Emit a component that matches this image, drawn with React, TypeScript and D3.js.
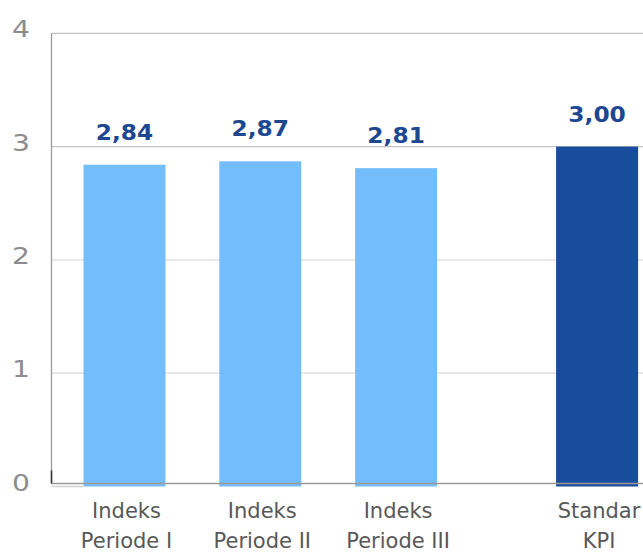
import React from "react";
import * as d3 from "d3";

const categories: string[][] = [
  ["Indeks", "Periode I"],
  ["Indeks", "Periode II"],
  ["Indeks", "Periode III"],
  ["Standar", "KPI"],
];
const slots = [0, 1, 2, 3.48];
const values = [2.84, 2.87, 2.81, 3.0];
const valueLabels = ["2,84", "2,87", "2,81", "3,00"];
const yTicks = [0, 1, 2, 3, 4];

const W = 643;
const H = 552;

export default function App() {
  const y = d3.scaleLinear().domain([0, 4]).range([486.5, 33.3]);
  const x = d3.scaleLinear().domain([0, 1]).range([124.5, 260.3]);
  const barW = 82;
  const axisX = 51.5;
  const light = "#74bdfc";
  const dark = "#184c9c";
  return (
    <svg
      width={W}
      height={H}
      style={{ position: "absolute", left: 0, top: 0, background: "#fff" }}
    >
      {yTicks.map((t) => (
        <g key={t}>
          {t > 0 && (
            <line
              x1={axisX}
              x2={W}
              y1={y(t)}
              y2={y(t)}
              stroke={t >= 3 ? "#c4c4c4" : "#dadada"}
              strokeWidth={1.3}
            />
          )}
          <text
            transform={`translate(21,${y(t) - 4}) scale(1.2,1)`}
            textAnchor="middle"
            dominantBaseline="central"
            fontFamily="DejaVu Sans, sans-serif"
            fontSize={23.5}
            fill="#8c8c8c"
          >
            {t}
          </text>
        </g>
      ))}
      {values.map((v, i) => (
        <rect
          key={i}
          x={x(slots[i]) - barW / 2}
          y={y(v)}
          width={barW}
          height={y(0) - y(v)}
          fill={i === 3 ? dark : light}
        />
      ))}
      <line x1={axisX} x2={W} y1={y(0) - 3} y2={y(0) - 3} stroke="#9a9a9a" strokeWidth={1.3} />
      <line x1={axisX} x2={83} y1={y(0)} y2={y(0)} stroke="#d0d0d0" strokeWidth={1.5} />
      <line x1={axisX} x2={axisX} y1={y(4)} y2={y(0) - 3} stroke="#9a9a9a" strokeWidth={1.3} />
      <line x1={axisX} x2={axisX} y1={y(0) - 16} y2={y(0) - 3} stroke="#333" strokeWidth={1.5} />
      {values.map((v, i) => (
        <text
          key={i}
          transform={`translate(${x(slots[i])},${y(v) - 25}) scale(1.06,1)`}
          textAnchor="middle"
          fontFamily="DejaVu Sans, sans-serif"
          fontWeight="bold"
          fontSize={22}
          fill="#1d4791"
        >
          {valueLabels[i]}
        </text>
      ))}
      {categories.map((lines, i) => (
        <text
          key={i}
          x={x(slots[i]) + 2}
          textAnchor="middle"
          fontFamily="DejaVu Sans, sans-serif"
          fontSize={21}
          fill="#585858"
        >
          {lines.map((l, j) => (
            <tspan key={j} x={x(slots[i]) + 2} y={518 + j * 30}>
              {l}
            </tspan>
          ))}
        </text>
      ))}
    </svg>
  );
}
